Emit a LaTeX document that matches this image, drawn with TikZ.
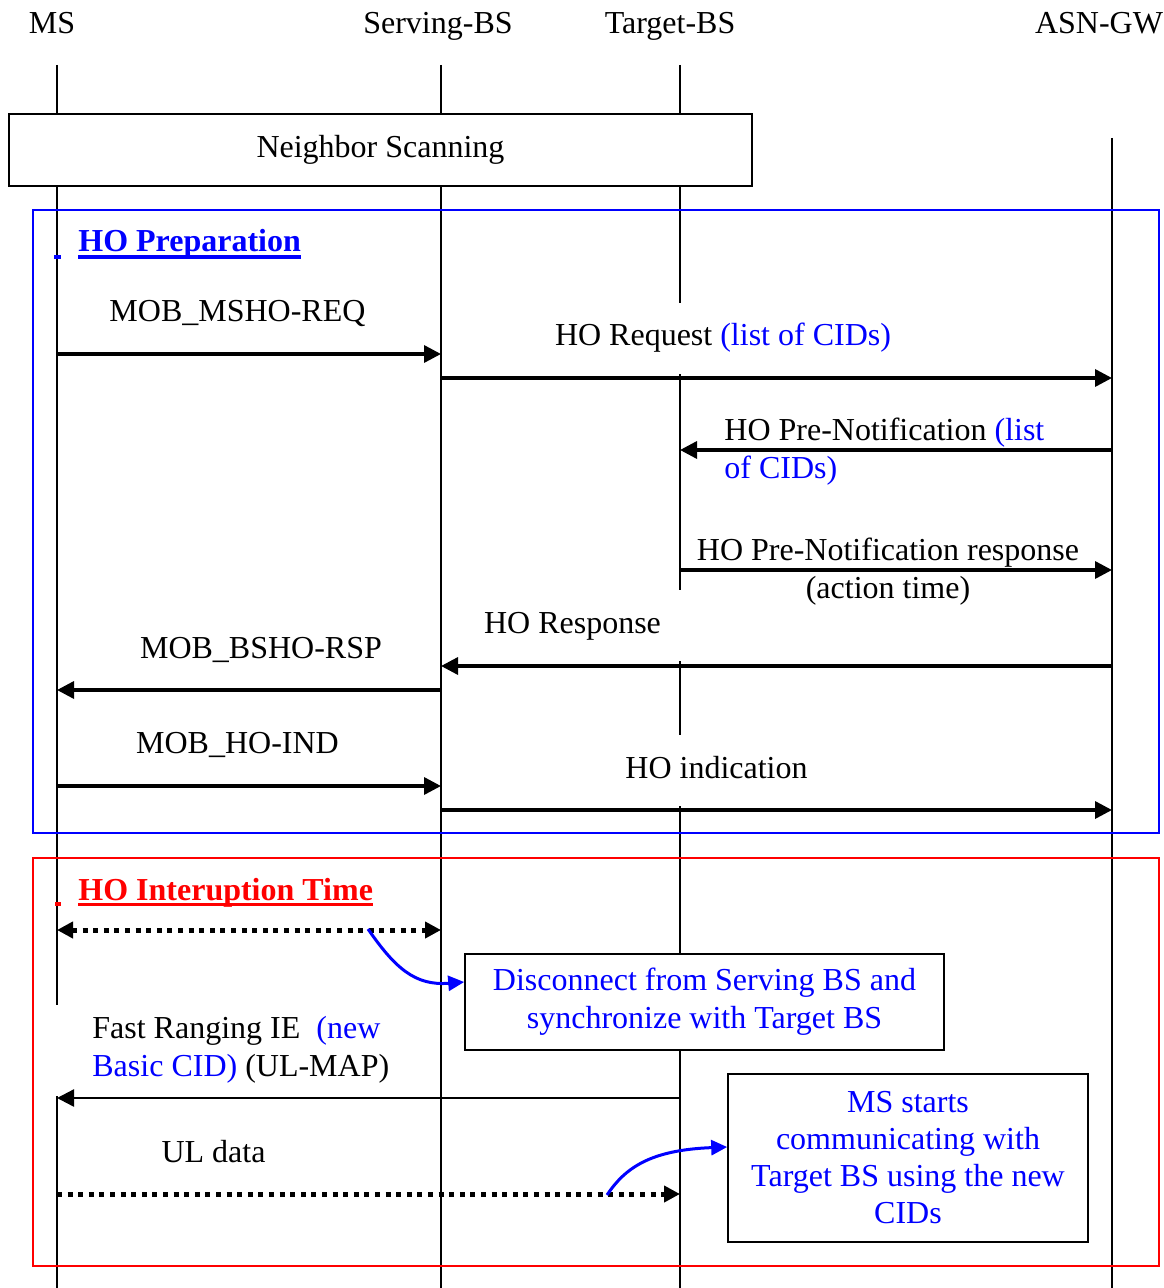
\documentclass[tikz,border=0pt]{standalone}
\usepackage{fontspec}
\setmainfont{Liberation Serif}
\usepackage{tikz}
\usetikzlibrary{arrows.meta}

\begin{document}
\begin{tikzpicture}[x=0.5pt, y=-0.5pt,
            every node/.style = {font=\fontsize{16}{19}\selectfont},
            life/.style = {line width=0.6pt},
            msg/.style = {line width=1.7pt, -{Triangle[length=8.5pt, width=8.5pt]}},
            dots/.style = {line width=2.5pt, dash pattern=on 2.5pt off 2.8pt, -{Triangle[length=8pt, width=8pt]}},
            dotsboth/.style = {dots, {Triangle[length=8pt, width=8pt]}-{Triangle[length=8pt, width=8pt]}},
            hint/.style = {blue, line width=1.5pt, -{Triangle[length=8pt, width=7.5pt]}},
            cover/.style = {fill=white, text height=11pt, text depth=3.5pt, minimum height=35.5pt},
            note/.style = {draw, line width=0.8pt, fill=white, text=blue, align=center},
            title/.style = {anchor=base west, inner sep=0pt, font=\fontsize{16}{19}\selectfont\bfseries},
            frame/.style = {line width=0.7pt}
            ]
            \useasboundingbox (0,0) rectangle (1163,1288);

            % entities
            \node[anchor=base] (ms) at (52,34) {MS};
            \node[anchor=base] (sbs) at (438,34) {Serving-BS};
            \node[anchor=base] (tbs) at (670,34) {Target-BS};
            \node[anchor=base] (gw) at (1099,34) {ASN-GW};

            \coordinate (msL) at (57,65);
            \coordinate (sbsL) at (441,65);
            \coordinate (tbsL) at (680,65);
            \coordinate (gwL) at (1112,138);
            \coordinate (bot) at (0,1288);

            \draw[life] (msL) -- (msL |- bot);
            \draw[life] (sbsL) -- (sbsL |- bot);
            \draw[life] (tbsL) -- (tbsL |- bot);
            \draw[life] (gwL) -- (gwL |- bot);

            % phases
            \draw[frame, blue] (33,210) rectangle (1159,833);
            \draw[frame, red] (33,858) rectangle (1159,1266);

            \node[draw, line width=0.7pt, fill=white, minimum width=371.5pt, minimum height=36pt] (scan) at (380.5,150) {Neighbor Scanning};

            \node[title, blue] (prep) at (78,252) {HO Preparation};
            \draw[blue, line width=1.8pt] ([yshift=-2.5pt]prep.base west) -- ([yshift=-2.5pt]prep.base east);
            \draw[blue, line width=1.8pt] (54,257) -- (61,257);

            \node[title, red] (intr) at (78,900) {HO Interuption Time};
            \draw[red, line width=1.8pt] ([yshift=-2.3pt]intr.base west) -- ([yshift=-2.3pt]intr.base east);
            \draw[red, line width=1.8pt] (55,904) -- (61,904);

            % message rows
            \coordinate (m1) at (0,354);
            \coordinate (m2) at (0,378);
            \coordinate (m3) at (0,450);
            \coordinate (m4) at (0,570);
            \coordinate (m5) at (0,666);
            \coordinate (m6) at (0,690);
            \coordinate (m7) at (0,786);
            \coordinate (m8) at (0,810);
            \coordinate (m9) at (0,930);
            \coordinate (m10) at (0,1098);
            \coordinate (m11) at (0,1194);

            \node[cover] (horeq) at (723,338.5) {HO Request \textcolor{blue}{(list of CIDs)}};
            \node[cover, minimum width=120pt] (horsp) at (572.5,625.5) {HO Response};
            \node[cover] (hoind) at (716.5,770.5) {HO indication};
            \node[fill=white, align=left, anchor=south west, inner xsep=18pt, inner ysep=6pt] (fast) at (56,1096) {Fast Ranging IE~~\textcolor{blue}{(new}\\\textcolor{blue}{Basic CID)} (UL-MAP)};

            \node[note, minimum width=239.5pt, minimum height=48pt] (disc) at (704.5,1002) {Disconnect from Serving BS and\\synchronize with Target BS};
            \node[note, minimum width=180pt, minimum height=84pt, font=\fontsize{16}{18.5}\selectfont] (start) at (908,1158) {MS starts\\communicating with\\Target BS using the new\\CIDs};

            \draw[msg] (msL |- m1) -- (sbsL |- m1);
            \draw[msg] (sbsL |- m2) -- (gwL |- m2);
            \draw[msg] (gwL |- m3) -- (tbsL |- m3);
            \draw[msg] (tbsL |- m4) -- (gwL |- m4);
            \draw[msg] (gwL |- m5) -- (sbsL |- m5);
            \draw[msg] (sbsL |- m6) -- (msL |- m6);
            \draw[msg] (msL |- m7) -- (sbsL |- m7);
            \draw[msg] (sbsL |- m8) -- (gwL |- m8);
            \draw[dotsboth] (msL |- m9) -- (sbsL |- m9);
            \draw[msg, line width=1.2pt] (tbsL |- m10) -- (msL |- m10);
            \draw[dots] (msL |- m11) -- (tbsL |- m11);

            \node[anchor=base] (mshoreq) at (237.5,322) {MOB\_MSHO-REQ};
            \node[anchor=west, align=left, inner xsep=0pt] (prenot) at (724,452) {HO Pre-Notification \textcolor{blue}{(list}\\\textcolor{blue}{of CIDs)}};
            \node[align=center] (prersp) at (888,572) {HO Pre-Notification response\\(action time)};
            \node[anchor=base] (bshorsp) at (261,658) {MOB\_BSHO-RSP};
            \node[anchor=base] (hoindms) at (237.5,753) {MOB\_HO-IND};
            \node[anchor=base] (ul) at (213.5,1162) {UL data};

            % hints
            \coordinate (h1) at (368,929);
            \coordinate (h2) at (607,1195);
            \draw[hint] (h1) .. controls (395,968) and (415,986) .. ([yshift=10pt]disc.west);
            \draw[hint] (h2) .. controls (625,1168) and (650,1150) .. ([yshift=5.5pt]start.west);
        \end{tikzpicture}
\end{document}
